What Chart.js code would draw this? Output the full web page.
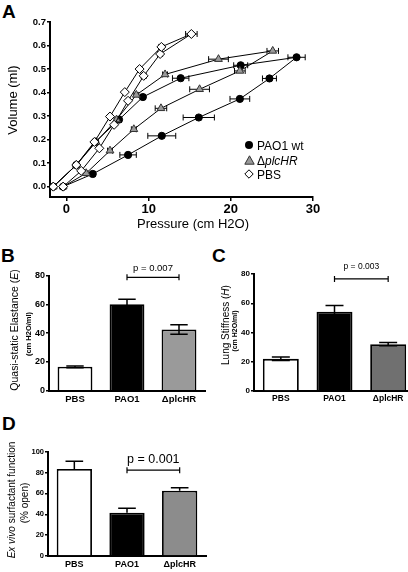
<!DOCTYPE html>
<html>
<head>
<meta charset="utf-8">
<script src="https://cdn.jsdelivr.net/npm/chart.js@4/dist/chart.umd.min.js"></script>
<style>
  body { margin: 0; width: 408px; height: 572px; overflow: hidden; background: #fff; position: relative;
         font-family: "Liberation Sans", Arial, sans-serif; color: #000; }
  .wrap { position: absolute; }
  .letter { position: absolute; font-weight: bold; font-size: 19px; line-height: 19px; }
  .rot { position: absolute; white-space: nowrap; transform: translate(-50%, -50%) rotate(-90deg); }
  .txt { position: absolute; white-space: nowrap; transform: translate(-50%, -50%); }
  .leg { position: absolute; font-size: 12px; line-height: 14px; white-space: nowrap; }
  .leg svg { position: absolute; left: -13px; top: 1px; }
</style>
</head>
<body>
<div class="letter" style="left:2px;top:2px">A</div>
<div class="letter" style="left:1px;top:246px">B</div>
<div class="letter" style="left:212px;top:246px">C</div>
<div class="letter" style="left:2px;top:414px">D</div>

<div class="wrap" style="left:0;top:0;width:330px;height:235px"><canvas id="chartA"></canvas></div>
<div class="wrap" style="left:0;top:240px;width:210px;height:170px"><canvas id="chartB"></canvas></div>
<div class="wrap" style="left:200px;top:240px;width:220px;height:170px"><canvas id="chartC"></canvas></div>
<div class="wrap" style="left:0;top:420px;width:210px;height:152px"><canvas id="chartD"></canvas></div>

<!-- axis titles -->
<div class="rot" style="left:12px;top:100px;font-size:13px">Volume (ml)</div>
<div class="txt" style="left:193px;top:223px;font-size:13px">Pressure (cm H2O)</div>
<div class="rot" style="left:14px;top:330px;font-size:10.5px">Quasi-static Elastance (<i>E</i>)</div>
<div class="rot" style="left:28px;top:334px;font-size:7.5px;font-weight:bold">(cm H2O/ml)</div>
<div class="rot" style="left:225px;top:325px;font-size:10px">Lung Stiffness (<i>H</i>)</div>
<div class="rot" style="left:234px;top:331px;font-size:7px;font-weight:bold">(cm H2O/ml)</div>
<div class="rot" style="left:11px;top:500px;font-size:10px"><i>Ex vivo</i> surfactant function</div>
<div class="rot" style="left:24px;top:503px;font-size:10px">(% open)</div>

<!-- legend of panel A -->
<div class="leg" style="left:257px;top:139px">
  <svg width="10" height="10"><circle cx="5" cy="5" r="4" fill="#000"/></svg>PAO1 wt</div>
<div class="leg" style="left:257px;top:154px">
  <svg width="11" height="10"><polygon points="5.5,0.8 10.2,9.2 0.8,9.2" fill="#999" stroke="#333" stroke-width="1"/></svg>&Delta;<i>plcHR</i></div>
<div class="leg" style="left:257px;top:168px">
  <svg width="10" height="10"><polygon points="5,0.8 9.2,5 5,9.2 0.8,5" fill="#fff" stroke="#000" stroke-width="1"/></svg>PBS</div>

<script>
// ---- panel A: pressure / volume loops (inflation then deflation) ----
const pao1Pressure = [-0.4, 3.2, 7.5, 11.6, 16.1, 21.1, 24.7, 28.0, 21.2, 13.9, 9.3, 6.4, 3.5, 1.2, -1.6];
const pao1Volume   = [0, 0.054, 0.135, 0.216, 0.294, 0.373, 0.46, 0.55, 0.516, 0.461, 0.381, 0.285, 0.19, 0.092, 0];
const pao1Err      = [0, 0.3, 1.0, 1.7, 1.9, 1.2, 0.85, 1.05, 0.85, 1.0, 0.3, 0.3, 0.2, 0.2, 0];

const plcPressure = [-0.4, 2.4, 5.3, 8.2, 11.5, 16.2, 21.1, 25.1, 18.5, 12.0, 8.5, 6.1, 3.6, 1.2, -1.6];
const plcVolume   = [0, 0.057, 0.153, 0.244, 0.333, 0.414, 0.492, 0.577, 0.542, 0.477, 0.39, 0.285, 0.19, 0.092, 0];
const plcErr      = [0, 0.2, 0.3, 0.3, 0.7, 1.2, 0.65, 0.7, 1.2, 0.3, 0.3, 0.3, 0.2, 0.2, 0];

const pbsPressure = [-0.4, 1.8, 4.0, 5.8, 7.5, 9.4, 11.4, 15.2, 11.55, 8.9, 7.1, 5.3, 3.4, 1.2, -1.6];
const pbsVolume   = [0, 0.067, 0.163, 0.263, 0.365, 0.471, 0.564, 0.649, 0.594, 0.50, 0.402, 0.298, 0.19, 0.092, 0];
const pbsErr      = [0, 0, 0, 0, 0.2, 0.3, 0.3, 0.7, 0.3, 0.2, 0, 0, 0, 0, 0];

const pressureTicks = [0, 10, 20, 30];
const volumeTicks = [0, 0.1, 0.2, 0.3, 0.4, 0.5, 0.6, 0.7];

// ---- panels B, C, D: bar charts ----
const groups = ['PBS', 'PAO1', '\u0394plcHR'];
const elastance    = [16.6, 60, 42.5];
const elastanceErr = [0.6, 3.5, 3.3];
const stiffness    = [22, 54.2, 32];
const stiffnessErr = [1.2, 4.2, 1.1];
const surfactant    = [83.5, 41.5, 62.5];
const surfactantErr = [7.3, 4.2, 2.9];

Chart.defaults.font.family = '"Liberation Sans", Arial, sans-serif';
Chart.defaults.color = '#000';

function points(xs, ys) {
    return xs.map((x, i) => ({ x: x, y: ys[i] }));
}

// horizontal SEM bars for the loops
const xErrorBars = {
    id: 'xErrorBars',
    beforeDatasetsDraw(chart) {
        const ctx = chart.ctx, xs = chart.scales.x, ys = chart.scales.y;
        ctx.save();
        ctx.strokeStyle = '#000';
        ctx.lineWidth = 1;
        chart.data.datasets.forEach(ds => {
            ds.data.forEach((p, i) => {
                const e = ds.xErr[i];
                if (!e) return;
                const y = ys.getPixelForValue(p.y);
                const x1 = xs.getPixelForValue(p.x - e), x2 = xs.getPixelForValue(p.x + e);
                ctx.beginPath();
                ctx.moveTo(x1, y); ctx.lineTo(x2, y);
                ctx.moveTo(x1, y - 3); ctx.lineTo(x1, y + 3);
                ctx.moveTo(x2, y - 3); ctx.lineTo(x2, y + 3);
                ctx.stroke();
            });
        });
        ctx.restore();
    }
};

function loopSet(label, xs, ys, err, style, fill, stroke, r) {
    return {
        label: label,
        data: points(xs, ys),
        xErr: err,
        showLine: true,
        borderColor: '#000',
        borderWidth: 1,
        pointStyle: style,
        pointRadius: r,
        pointBackgroundColor: fill,
        pointBorderColor: stroke,
        pointBorderWidth: 1
    };
}

new Chart(document.getElementById('chartA'), {
    type: 'scatter',
    data: {
        datasets: [
            loopSet('PBS', pbsPressure, pbsVolume, pbsErr, 'rectRot', '#fff', '#000', 4.5),
            loopSet('\u0394plcHR', plcPressure, plcVolume, plcErr, 'triangle', '#999', '#333', 4.5),
            loopSet('PAO1 wt', pao1Pressure, pao1Volume, pao1Err, 'circle', '#000', '#000', 3.6)
        ]
    },
    options: {
        responsive: true,
        maintainAspectRatio: false,
        animation: false,
        layout: { padding: { top: 22, right: 17, left: 0, bottom: 0 } },
        plugins: { legend: { display: false }, tooltip: { enabled: false } },
        scales: {
            x: {
                type: 'linear', min: -2, max: 30,
                afterBuildTicks: s => { s.ticks = pressureTicks.map(v => ({ value: v })); },
                afterFit: s => { s.height = 38; },
                grid: { drawOnChartArea: false, tickLength: 4, color: '#000', lineWidth: 1.5 },
                border: { color: '#000', width: 2 },
                ticks: { font: { size: 13, weight: 'bold' }, padding: 1, maxRotation: 0 }
            },
            y: {
                type: 'linear', min: -0.044, max: 0.7,
                afterBuildTicks: s => { s.ticks = volumeTicks.map(v => ({ value: v })); },
                afterFit: s => { s.width = 50; },
                grid: { drawOnChartArea: false, tickLength: 3, color: '#000', lineWidth: 1.5 },
                border: { color: '#000', width: 2 },
                ticks: { font: { size: 9.5, weight: 'bold' }, padding: 1, callback: v => v.toFixed(1) }
            }
        }
    },
    plugins: [xErrorBars]
});

// error whiskers and the p-value bracket on the bar charts
const barExtras = {
    id: 'barExtras',
    afterDatasetsDraw(chart, args, opts) {
        const ctx = chart.ctx, ys = chart.scales.y;
        const meta = chart.getDatasetMeta(0);
        const ds = chart.data.datasets[0];
        ctx.save();
        ctx.strokeStyle = '#000';
        ctx.lineWidth = 1.5;
        meta.data.forEach((bar, i) => {
            const v = ds.data[i], e = ds.errors[i];
            const yTop = ys.getPixelForValue(v + e);
            const yBot = ys.getPixelForValue(opts.upOnly ? v : v - e);
            const half = bar.width * 0.25;
            ctx.beginPath();
            ctx.moveTo(bar.x, yBot); ctx.lineTo(bar.x, yTop);
            ctx.moveTo(bar.x - half, yTop); ctx.lineTo(bar.x + half, yTop);
            if (!opts.upOnly) { ctx.moveTo(bar.x - half, yBot); ctx.lineTo(bar.x + half, yBot); }
            ctx.stroke();
        });
        const a = meta.data[1].x, b = meta.data[2].x;
        const yb = ys.getPixelForValue(opts.level);
        ctx.lineWidth = 1.2;
        ctx.beginPath();
        ctx.moveTo(a, yb); ctx.lineTo(b, yb);
        ctx.moveTo(a, yb - 3); ctx.lineTo(a, yb + 3);
        ctx.moveTo(b, yb - 3); ctx.lineTo(b, yb + 3);
        ctx.stroke();
        ctx.fillStyle = '#000';
        ctx.font = opts.fontSize + 'px "Liberation Sans", Arial, sans-serif';
        ctx.textAlign = 'center';
        ctx.textBaseline = 'middle';
        ctx.fillText(opts.text, (a + b) / 2, yb - opts.gap);
        ctx.restore();
    }
};

function barChart(id, values, errors, gray, cfg) {
    return new Chart(document.getElementById(id), {
        type: 'bar',
        data: {
            labels: groups,
            datasets: [{
                data: values,
                errors: errors,
                backgroundColor: ['#fff', '#000', gray],
                borderColor: '#000',
                borderWidth: 1.8,
                categoryPercentage: 1,
                barPercentage: 0.67
            }]
        },
        options: {
            responsive: true,
            maintainAspectRatio: false,
            animation: false,
            layout: { padding: cfg.padding },
            plugins: {
                legend: { display: false },
                tooltip: { enabled: false },
                barExtras: cfg.bracket
            },
            scales: {
                x: {
                    afterFit: s => { s.height = cfg.xHeight; },
                    grid: { display: false, drawTicks: false },
                    border: { color: '#000', width: 2 },
                    ticks: { font: { size: cfg.catSize, weight: 'bold' }, padding: 3 }
                },
                y: {
                    min: 0, max: cfg.max,
                    afterFit: s => { s.width = cfg.yWidth; },
                    grid: { drawOnChartArea: false, tickLength: 3, color: '#000', lineWidth: 1.5 },
                    border: { color: '#000', width: 2 },
                    ticks: { stepSize: 20, font: { size: cfg.tickSize, weight: 'bold' }, padding: 1 }
                }
            }
        },
        plugins: [barExtras]
    });
}

barChart('chartB', elastance, elastanceErr, '#9a9a9a', {
    max: 80, yWidth: 49, xHeight: 19.3, catSize: 9.5, tickSize: 9,
    padding: { top: 35.5, right: 5, left: 0, bottom: 0 },
    bracket: { level: 78.7, text: 'p = 0.007', fontSize: 9.5, gap: 9, upOnly: false }
});
barChart('chartC', stiffness, stiffnessErr, '#707070', {
    max: 80, yWidth: 54, xHeight: 19, catSize: 8.5, tickSize: 8,
    padding: { top: 34, right: 5, left: 0, bottom: 0 },
    bracket: { level: 76.6, text: 'p = 0.003', fontSize: 8.5, gap: 12, upOnly: false }
});
barChart('chartD', surfactant, surfactantErr, '#8c8c8c', {
    max: 100, yWidth: 48, xHeight: 16, catSize: 9, tickSize: 7.5,
    padding: { top: 31.7, right: 4, left: 0, bottom: 0 },
    bracket: { level: 82.3, text: 'p = 0.001', fontSize: 12.5, gap: 11, upOnly: true }
});
</script>
</body>
</html>
